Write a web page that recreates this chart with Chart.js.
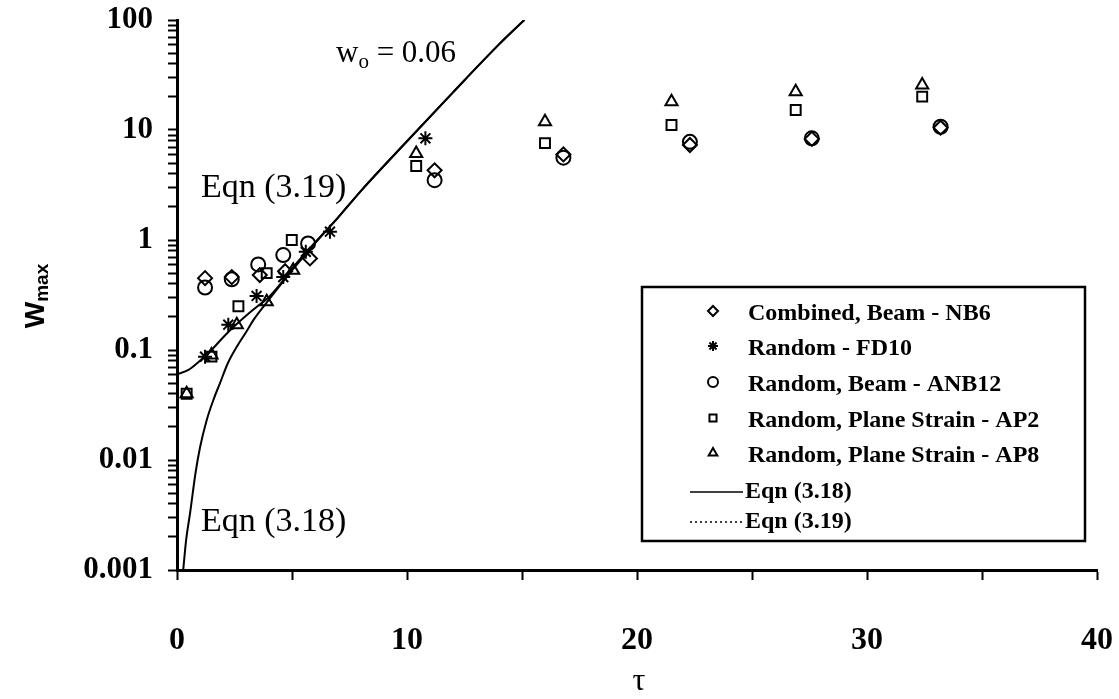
<!DOCTYPE html>
<html>
<head>
<meta charset="utf-8">
<script src="https://cdn.jsdelivr.net/npm/chart.js@4.4.0/dist/chart.umd.min.js"></script>
<style>
  html, body { margin: 0; padding: 0; background: #fff; }
</style>
</head>
<body>
<canvas id="chart" width="1119" height="699"></canvas>
<script>
// measured points, tau vs w_max
const tauNB6 = [1.22, 2.38, 3.6, 4.7, 5.78, 11.2, 16.8, 22.3, 27.6, 33.2];
const wNB6   = [0.45, 0.46, 0.48, 0.52, 0.68, 4.3, 6.0, 7.3, 8.3, 10.5];

const tauFD10 = [1.22, 2.23, 3.46, 4.62, 5.6, 6.65, 10.8];
const wFD10   = [0.087, 0.17, 0.31, 0.46, 0.78, 1.19, 8.4];

const tauANB12 = [1.22, 2.38, 3.53, 4.62, 5.7, 11.2, 16.8, 22.3, 27.6, 33.2];
const wANB12   = [0.37, 0.44, 0.6, 0.73, 0.93, 3.5, 5.6, 7.8, 8.4, 10.7];

const tauAP2 = [0.42, 1.5, 2.67, 3.9, 4.99, 10.4, 16.0, 21.5, 26.9, 32.4];
const wAP2   = [0.04, 0.087, 0.25, 0.5, 1.0, 4.7, 7.6, 11.1, 15.2, 20.1];

const tauAP8 = [0.42, 1.5, 2.6, 3.9, 5.05, 10.4, 16.0, 21.5, 26.9, 32.4];
const wAP8   = [0.04, 0.09, 0.17, 0.275, 0.53, 6.1, 11.9, 18.1, 22.3, 25.6];

// theory curves
const tauEq318 = [0.27, 0.4, 0.57, 0.8, 1.0, 1.29, 1.6, 1.87, 2.2, 2.6, 3.0, 3.32, 3.9, 4.5, 5.0, 6.0, 7.0, 8.0, 10.0, 12.0, 14.0, 15.1];
const wEq318   = [0.001, 0.0019, 0.0033, 0.0075, 0.013, 0.023, 0.036, 0.05, 0.075, 0.107, 0.145, 0.187, 0.27, 0.39, 0.53, 0.93, 1.6, 2.8, 7.9, 22, 60, 100];

const tauEq319 = [0.0, 0.5, 1.0, 1.5, 2.0, 2.5, 3.0, 3.5, 3.9, 4.5, 5.0, 6.0, 7.0, 8.0, 10.0, 12.0, 14.0, 15.1];
const wEq319   = [0.06, 0.066, 0.08, 0.1, 0.13, 0.165, 0.205, 0.25, 0.29, 0.4, 0.55, 0.95, 1.6, 2.8, 7.9, 22, 60, 100];

const yTickLabels = [0.001, 0.01, 0.1, 1, 10, 100];
const xTickLabels = [0, 10, 20, 30, 40];

const pts = (xs, ys) => xs.map((x, i) => ({ x: x, y: ys[i] }));

const markerStyle = (label, xs, ys, style) => ({
  label: label,
  data: pts(xs, ys),
  pointStyle: style,
  pointRadius: 7,
  pointBorderWidth: 2,
  pointBorderColor: '#000',
  pointBackgroundColor: 'rgba(0,0,0,0)',
  showLine: false,
});

const curveStyle = (label, xs, ys) => ({
  label: label,
  data: pts(xs, ys),
  showLine: true,
  borderColor: '#000',
  borderWidth: 2,
  pointRadius: 0,
  cubicInterpolationMode: 'monotone',
});

const datasets = [
  curveStyle('Eqn (3.18)', tauEq318, wEq318),
  curveStyle('Eqn (3.19)', tauEq319, wEq319),
  markerStyle('Combined, Beam - NB6', tauNB6, wNB6, 'rectRot'),
  markerStyle('Random - FD10', tauFD10, wFD10, 'star'),
  markerStyle('Random, Beam - ANB12', tauANB12, wANB12, 'circle'),
  markerStyle('Random, Plane Strain - AP2', tauAP2, wAP2, 'rect'),
  markerStyle('Random, Plane Strain - AP8', tauAP8, wAP8, 'triangle'),
];

const SERIF = '"Liberation Serif", "Times New Roman", serif';
const SANS = '"Liberation Sans", Arial, sans-serif';

// text labels, axis titles and the boxed key
const extras = {
  id: 'extras',
  afterDraw(chart) {
    const ctx = chart.ctx;
    ctx.save();
    ctx.fillStyle = '#000';
    ctx.textBaseline = 'middle';

    // in-plot labels
    ctx.font = '34px ' + SERIF;
    ctx.textAlign = 'left';
    ctx.fillText('Eqn (3.19)', 201, 188);
    ctx.fillText('Eqn (3.18)', 201, 522);
    ctx.font = '31px ' + SERIF;
    ctx.fillText('w', 336, 54);
    const w = ctx.measureText('w').width;
    ctx.font = '21px ' + SERIF;
    ctx.fillText('o', 336 + w, 62);
    const w2 = ctx.measureText('o').width;
    ctx.font = '31px ' + SERIF;
    ctx.fillText(' = 0.06', 336 + w + w2, 54);

    // x title
    ctx.font = '32px ' + SERIF;
    ctx.textAlign = 'center';
    ctx.fillText('\u03c4', 639, 682);

    // y title, rotated
    ctx.save();
    ctx.translate(36, 296);
    ctx.rotate(-Math.PI / 2);
    ctx.textAlign = 'left';
    ctx.font = 'bold 28px ' + SANS;
    const wW = ctx.measureText('W').width;
    ctx.font = 'bold 19px ' + SANS;
    const wMax = ctx.measureText('max').width;
    const x0 = -(wW + wMax) / 2;
    ctx.font = 'bold 28px ' + SANS;
    ctx.fillText('W', x0, 0);
    ctx.font = 'bold 19px ' + SANS;
    ctx.fillText('max', x0 + wW, 7);
    ctx.restore();

    // key
    const bx = 642, by = 287, bw = 443, bh = 254;
    ctx.fillStyle = '#fff';
    ctx.fillRect(bx, by, bw, bh);
    ctx.strokeStyle = '#000';
    ctx.lineWidth = 2.5;
    ctx.strokeRect(bx, by, bw, bh);

    const rowY = [314, 349, 385, 421, 456, 492, 522];
    ctx.font = 'bold 24px ' + SERIF;
    ctx.textAlign = 'left';
    chart.data.datasets.forEach((ds, i) => {
      const row = i >= 2 ? i - 2 : i + 5;
      const y = rowY[row];
      ctx.strokeStyle = '#000';
      ctx.fillStyle = '#000';
      if (ds.showLine) {
        ctx.lineWidth = 1.5;
        ctx.setLineDash(i === 1 ? [2, 3] : []);
        ctx.beginPath();
        ctx.moveTo(690, y);
        ctx.lineTo(743, y);
        ctx.stroke();
        ctx.setLineDash([]);
        ctx.fillText(ds.label, 745, y);
      } else {
        ctx.lineWidth = 2;
        ctx.fillStyle = 'rgba(0,0,0,0)';
        Chart.helpers.drawPoint(ctx, { pointStyle: ds.pointStyle, radius: 5, rotation: 0, borderWidth: 2 }, 713, y - 3);
        ctx.fillStyle = '#000';
        ctx.fillText(ds.label, 748, y);
      }
    });
    ctx.restore();
  }
};

new Chart(document.getElementById('chart'), {
  type: 'scatter',
  data: { datasets: datasets },
  plugins: [extras],
  options: {
    responsive: false,
    devicePixelRatio: 1,
    animation: false,
    layout: { padding: { top: 20, right: 22, left: 0, bottom: 0 } },
    plugins: { legend: { display: false }, tooltip: { enabled: false } },
    scales: {
      x: {
        type: 'linear',
        min: 0,
        max: 40,
        afterFit(scale) {
          scale.height = 129;
          scale.paddingLeft = 0;
          scale.paddingRight = 0;
        },
        ticks: {
          stepSize: 5,
          color: '#000',
          padding: 42,
          font: { family: SERIF, size: 32, weight: 'bold' },
          callback: (v) => (xTickLabels.includes(v) ? String(v) : ''),
        },
        grid: { drawOnChartArea: false, drawTicks: true, tickLength: 10, tickColor: '#000', tickWidth: 2 },
        border: { color: '#000', width: 3 },
      },
      y: {
        type: 'logarithmic',
        min: 0.001,
        max: 100,
        afterFit(scale) {
          scale.width = 177;
          scale.paddingTop = 0;
          scale.paddingBottom = 0;
        },
        afterBuildTicks(scale) {
          const ticks = [];
          yTickLabels.forEach((d, i) => {
            if (i === yTickLabels.length - 1) { ticks.push({ value: d, major: true }); return; }
            for (let k = 1; k < 10; k++) ticks.push({ value: +(k * d).toPrecision(3), major: k === 1 });
          });
          scale.ticks = ticks;
        },
        ticks: {
          autoSkip: false,
          color: '#000',
          padding: 15,
          font: { family: SERIF, size: 31, weight: 'bold' },
          callback: (v) => (yTickLabels.some(t => Math.abs(t - v) / t < 1e-6) ? String(v) : ''),
        },
        grid: { drawOnChartArea: false, drawTicks: true, tickLength: 9, tickColor: '#000', tickWidth: 2 },
        border: { color: '#000', width: 3 },
      },
    },
  },
});
</script>
</body>
</html>
